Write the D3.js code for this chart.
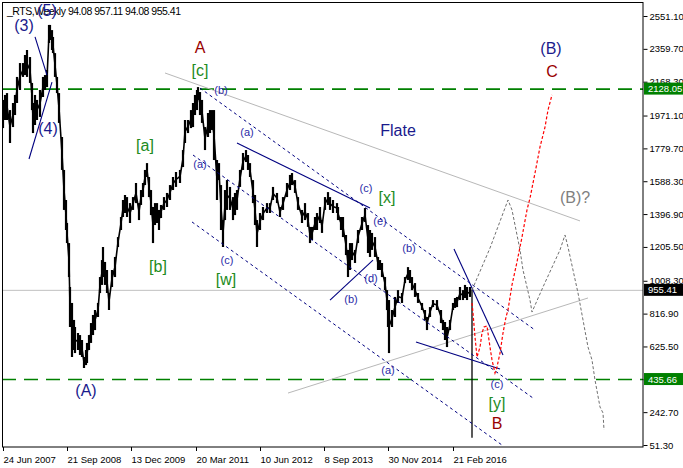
<!DOCTYPE html>
<html><head><meta charset="utf-8">
<script src="https://cdn.jsdelivr.net/npm/d3@7"></script>
<style>body{margin:0;background:#fff;}svg{display:block;font-family:"Liberation Sans",Arial,sans-serif;}</style>
</head><body>
<svg id="c" width="683" height="468"></svg>
<script>
// ---- DATA ----
const barIdx = [0,2,4,7,10,12,14,17,20,22,24,27,29,30,32,34,37,40,42,44,46,47,49,50,52,54,56,59,61,63,64,66,67,69,71,72,75,77,79,81,83,84,86,88,90,92,95,97,99,100,102,104,106,109,112,115,118,120,122,124,127,130,133,136,138,140,142,144,146,148,150,152,154,156,158,161,164,167,170,173,177,180,182,185,188,190,192,194,195,197,199,202,205,207,209,211,214,216,218,220,222,224,227,230,232,234,237,240,243,245,247,250,252,254,257,260,264,267,270,274,277,280,284,287,289,292,295,299,302,305,307,309,312,314,317,319,322,325,327,330,334,335,338,340,343,345,347,349,352,355,359,362,365,367,369,372,375,377,379,382,384,385,386,389,392,395,399,402,405,407,409,412,415,419,422,424,427,430,434,438,440,442,444,447,450,452,454,457,460,462,464,467,469];
const barHigh = [2062,2091,2102,2003,2044,2091,2196,2277,2277,2324,2353,2312,2161,2044,2091,2062,2120,2196,2207,2236,2499,2499,2469,2429,2335,2196,2102,1846,1654,1479,1345,1228,972,879,780,739,704,692,663,564,605,646,692,762,809,838,879,1030,1129,1205,1118,1071,937,1071,1147,1263,1380,1479,1508,1496,1461,1496,1578,1461,1537,1578,1654,1694,1613,1537,1438,1461,1461,1421,1450,1496,1520,1566,1613,1642,1654,1770,1945,1945,2003,2044,2091,2120,2137,2108,2062,1904,1986,2003,2003,2003,1712,1694,1566,1362,1537,1595,1555,1496,1520,1537,1654,1753,1770,1741,1694,1595,1508,1362,1403,1438,1461,1461,1555,1520,1438,1496,1578,1625,1636,1595,1496,1421,1461,1403,1322,1322,1380,1403,1438,1362,1496,1525,1496,1479,1461,1438,1380,1380,1275,1188,1228,1228,1188,1304,1380,1432,1333,1304,1287,1263,1147,1129,1112,1030,954,879,896,838,914,954,937,1030,1088,1071,1030,995,937,879,838,797,855,896,896,838,780,768,739,780,879,908,914,972,954,984,972,972,957.11];
const barLow = [1898,1945,1945,1811,1904,1974,2044,2120,2196,2207,2196,2161,2003,1869,1916,1945,1963,2079,2120,2137,2394,2411,2353,2335,2196,2102,1928,1654,1421,1304,1228,1030,739,564,605,587,605,576,564,500,517,529,605,646,692,721,797,937,984,1030,984,937,838,972,1030,1205,1304,1380,1403,1380,1345,1421,1461,1362,1450,1496,1566,1613,1496,1391,1228,1333,1345,1304,1374,1421,1438,1479,1537,1555,1578,1671,1811,1869,1898,1904,1974,2003,2062,1974,1928,1770,1846,1869,1887,1712,1479,1595,1304,1205,1362,1421,1421,1362,1391,1421,1555,1654,1700,1654,1613,1461,1333,1205,1304,1362,1403,1403,1479,1461,1380,1421,1496,1537,1566,1520,1421,1345,1362,1322,1228,1246,1304,1304,1345,1287,1421,1450,1421,1403,1403,1362,1304,1263,1158,1030,1071,1129,1112,1228,1304,1351,1170,1147,1188,1147,1071,1071,1030,954,838,739,587,739,797,879,879,995,1013,995,954,914,879,838,780,721,797,855,838,762,721,663,622,721,838,850,855,896,896,908,896,914,94.08];

// forecast paths (bar index, price)
const redIdx   = [469,470,472,474,477,479,481,484,485,487,489,492,494,497,500,503,505,509,514,519,524,527,532,537,542,545,549];
const redPrice = [879,820,681,564,622,704,739,745,704,622,547,471,506,587,704,797,838,984,1118,1263,1421,1490,1636,1788,1904,2003,2091];
const grayIdx   = [469,487,505,509,517,520,527,529,540,557,562,565,570,575,580,585,589,592,597,600,601];
const grayPrice = [954,1199,1479,1421,1188,1071,896,826,972,1188,1275,1205,1071,937,780,622,547,430,273,238,139];

// trend lines [idx1, price1, idx2, price2]
const navySolid = [[32,2429,44,2207],[26,1718,49,2166],[234,1811,367,1432],[327,896,370,1129],[451,1193,500,576],[413,651,497,494]];
const navyDotted = [[197,2131,532,721],[190,1741,530,325],[189,1351,499,51]];
const graySolid = [[162,2219,577,1357],[285,354,585,908]];

// horizontal levels
const levelPrice = [2128.05, 435.66, 955.41];
const levelKind  = ["green","green","last"];

// wave labels
const labelText  = ["(3)","(5)","(4)","(A)","A","[c]","(b)","Flate","[a]","(a)","(a)","[b]","(c)","[w]","(c)","[x]","(e)","(b)","(d)","(b)","(a)","(c)","[y]","B","(B)","C","(B)?"];
const labelIdx   = [21,44,45,83,197,197,218,395,142,244,197,155,224,223,363,384,377,406,368,348,385,494,494,494,548,549,572];
const labelPrice = [2493,2586,1893,366,2370,2236,2120,1881,1794,1875,1689,1094,1129,1013,1549,1496,1357,1199,1024,902,488,407,296,174,2359,2225,1496];
const labelKind  = ["big","big","big","big","red","green","small","big","green","small","small","green","small","green","small","green","small","small","small","small","small","small","green","red","big","red","gray"];

// axes
const xTickIdx = [0,64,128,193,257,321,385,450];
const xTickLabel = ["24 Jun 2007","21 Sep 2008","13 Dec 2009","20 Mar 2011","10 Jun 2012","8 Sep 2013","30 Nov 2014","21 Feb 2016"];
const yTickVal = [51.30,242.70,434.10,625.50,816.90,1008.30,1205.50,1396.90,1588.30,1779.70,1971.10,2168.30,2359.70,2551.10];
const titleText = "_RTS,Weekly  94.08 957.11 94.08 955.41";

// ---- DRAW ----
const svg = d3.select('#c');
const x = d3.scaleLinear().domain([0,640]).range([3,643]);
const y = d3.scaleLinear().domain([51.3,2551.1]).range([445,16]);

svg.append('defs').append('clipPath').attr('id','clip').append('rect')
  .attr('x',2).attr('y',2).attr('width',641).attr('height',445);
const g = svg.append('g').attr('clip-path','url(#clip)');

// title
g.append('text').attr('x',7).attr('y',11).attr('dominant-baseline','central')
  .attr('font-size',10.5).attr('fill','#000').attr('textLength',174).text(titleText);

// horizontal levels
g.selectAll('line.lvl').data(levelPrice).join('line')
  .attr('x1',2).attr('x2',643).attr('y1',d=>y(d)+0.5).attr('y2',d=>y(d)+0.5)
  .attr('stroke',(d,i)=>levelKind[i]==='green'?'#008000':'#c0c0c0')
  .attr('stroke-width',(d,i)=>levelKind[i]==='green'?1.6:1)
  .attr('stroke-dasharray',(d,i)=>levelKind[i]==='green'?'14,8':null);

// gray solid trend lines
g.selectAll('line.gs').data(graySolid).join('line')
  .attr('x1',d=>x(d[0])).attr('y1',d=>y(d[1])).attr('x2',d=>x(d[2])).attr('y2',d=>y(d[3]))
  .attr('stroke','#b8b8b8').attr('stroke-width',1);

// price bars
const n = barIdx.length;
const mid = d3.line().x(i=>x(barIdx[i])).y(i=>y((barHigh[i]+barLow[i])/2));
g.append('path').attr('d',mid(d3.range(n-1))).attr('fill','none').attr('stroke','#000').attr('stroke-width',1.6);
g.selectAll('line.bar').data(barIdx).join('line')
  .attr('x1',d=>x(d)).attr('x2',d=>x(d))
  .attr('y1',(d,i)=>y(barHigh[i])).attr('y2',(d,i)=>y(barLow[i]))
  .attr('stroke','#000').attr('stroke-width',(d,i)=>i===n-1?1.3:2.2);

// navy lines
g.selectAll('line.ns').data(navySolid).join('line')
  .attr('x1',d=>x(d[0])).attr('y1',d=>y(d[1])).attr('x2',d=>x(d[2])).attr('y2',d=>y(d[3]))
  .attr('stroke','#000080').attr('stroke-width',1.1);
g.selectAll('line.nd').data(navyDotted).join('line')
  .attr('x1',d=>x(d[0])).attr('y1',d=>y(d[1])).attr('x2',d=>x(d[2])).attr('y2',d=>y(d[3]))
  .attr('stroke','#000080').attr('stroke-width',1).attr('stroke-dasharray','3,3');

// forecasts
const fl = d3.line();
g.append('path').attr('d',fl(grayIdx.map((d,i)=>[x(d),y(grayPrice[i])])))
  .attr('fill','none').attr('stroke','#707070').attr('stroke-width',1).attr('stroke-dasharray','3,2');
g.append('path').attr('d',fl(redIdx.map((d,i)=>[x(d),y(redPrice[i])])))
  .attr('fill','none').attr('stroke','#ff0000').attr('stroke-width',1.2).attr('stroke-dasharray','3,2');

// labels
const lstyle = {
  big:{size:16,fill:'#1a1a8c'}, small:{size:11,fill:'#2a2aa8'},
  red:{size:16,fill:'#990000'}, green:{size:16,fill:'#228b22'}, gray:{size:16,fill:'#808080'}
};
g.selectAll('text.lab').data(labelText).join('text')
  .attr('x',(d,i)=>x(labelIdx[i])).attr('y',(d,i)=>y(labelPrice[i]))
  .attr('text-anchor','middle').attr('dominant-baseline','central')
  .attr('font-size',(d,i)=>lstyle[labelKind[i]].size)
  .attr('fill',(d,i)=>lstyle[labelKind[i]].fill).text(d=>d);

// border
svg.append('rect').attr('x',2.5).attr('y',2.5).attr('width',640.5).attr('height',444.5)
  .attr('fill','none').attr('stroke','#000').attr('stroke-width',1);

// y axis (right)
const yAxis = d3.axisRight(y).tickValues(yTickVal).tickSize(4).tickPadding(2).tickFormat(d3.format('.2f'));
const ya = svg.append('g').attr('transform','translate(643.5,0)').call(yAxis);
ya.select('.domain').remove();
ya.selectAll('text').attr('font-size',9.5).attr('font-family','"Liberation Sans",Arial,sans-serif').attr('fill','#000');

// x axis
const xAxis = d3.axisBottom(x).tickValues(xTickIdx).tickSize(4).tickFormat((d,i)=>xTickLabel[i]);
const xa = svg.append('g').attr('transform','translate(0,447)').call(xAxis);
xa.select('.domain').remove();
xa.selectAll('text').attr('text-anchor','start').attr('font-size',9.5)
  .attr('font-family','"Liberation Sans",Arial,sans-serif').attr('fill','#000').attr('dy','0.9em');

// price tags on axis
const tags = svg.append('g');
levelPrice.forEach((v,i)=>{
  const yy = y(v);
  tags.append('rect').attr('x',644).attr('y',yy-6).attr('width',39).attr('height',12)
    .attr('fill',levelKind[i]==='green'?'#008000':'#000');
  tags.append('text').attr('x',648).attr('y',yy).attr('dominant-baseline','central')
    .attr('font-size',9.5).attr('fill','#fff').text(d3.format('.2f')(v));
});
</script>
</body></html>
